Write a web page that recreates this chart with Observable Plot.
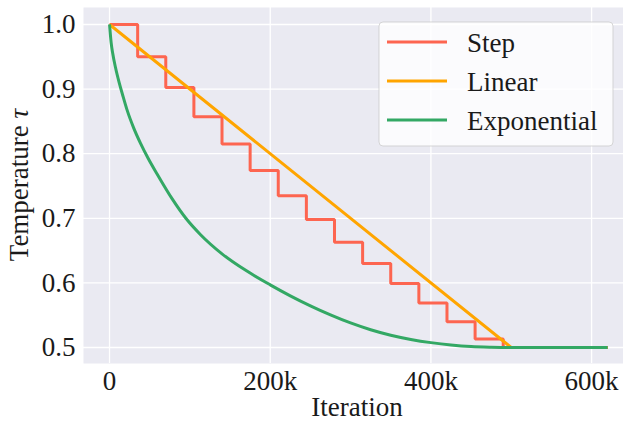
<!DOCTYPE html>
<html>
<head>
<meta charset="utf-8">
<script src="https://cdn.jsdelivr.net/npm/d3@7"></script>
<script src="https://cdn.jsdelivr.net/npm/@observablehq/plot@0.6"></script>
<style>
  html, body { margin: 0; padding: 0; background: white; }
  #chart svg { display: block; }
  #chart text { font-family: "Liberation Serif", "Times New Roman", serif; }
</style>
</head>
<body>
<div id="chart"></div>
<script>
// ---- data ----
const seriesNames = ["Step", "Linear", "Exponential"];
const seriesColors = ["#fd6550", "#ffa500", "#33a864"];

const stepIter = [0, 35000, 70000, 105000, 140000, 175000, 210000, 245000, 280000, 315000, 350000, 385000, 420000, 455000, 490000, 620000];
const stepTemp = [1.0, 0.95, 0.9025, 0.857, 0.815, 0.774, 0.735, 0.698, 0.663, 0.630, 0.599, 0.569, 0.540, 0.513, 0.5, 0.5];

const linearIter = [0, 500000, 620000];
const linearTemp = [1.0, 0.5, 0.5];

const expIter = [0, 2000, 4000, 7500, 12000, 17000, 22000, 30000, 38600, 48000, 59000, 78000, 95000, 113000, 140000, 170000, 200000, 225000, 250000, 275000, 300000, 325000, 350000, 375000, 400000, 425000, 450000, 475000, 500000, 620000];
const expTemp = [1.0, 0.972, 0.955, 0.933, 0.910, 0.888, 0.867, 0.840, 0.816, 0.793, 0.769, 0.730, 0.700, 0.675, 0.645, 0.619, 0.597, 0.580, 0.5645, 0.5505, 0.538, 0.5275, 0.519, 0.5125, 0.5075, 0.5038, 0.5014, 0.5004, 0.5, 0.5];

const xTicks = [0, 200000, 400000, 600000];
const xTickLabels = ["0", "200k", "400k", "600k"];
const yTicks = [0.5, 0.6, 0.7, 0.8, 0.9, 1.0];
const xLabel = "Iteration";
const yLabel = "Temperature ";
const yLabelSymbol = "τ";

// ---- build tables ----
const stepRows = stepIter.map((x, i) => ({x, y: stepTemp[i]}));
const linearRows = linearIter.map((x, i) => ({x, y: linearTemp[i]}));
const expRows = expIter.map((x, i) => ({x, y: expTemp[i]}));

const W = 623, H = 422;
const font = "Liberation Serif, Times New Roman, serif";
const fs = 27;

const chart = Plot.plot({
  width: W,
  height: H,
  marginLeft: 83,
  marginRight: 0,
  marginTop: 7,
  marginBottom: 59,
  style: {fontFamily: font, fontSize: fs + "px", background: "white", color: "#1a1a1a"},
  x: {domain: [-32400, 639700], label: null},
  y: {domain: [0.4752, 1.0263], label: null},
  marks: [
    Plot.frame({fill: "#eaeaf2", stroke: null}),
    Plot.gridX(xTicks, {stroke: "white", strokeOpacity: 1, strokeWidth: 1.3}),
    Plot.gridY(yTicks, {stroke: "white", strokeOpacity: 1, strokeWidth: 1.3}),
    Plot.axisX(xTicks, {tickSize: 0, tickPadding: 7, tickFormat: (d) => xTickLabels[xTicks.indexOf(d)], fontSize: fs, label: null}),
    Plot.axisY(yTicks, {tickSize: 0, tickPadding: 8, tickFormat: d3.format(".1f"), fontSize: fs, label: null}),
    Plot.line(stepRows, {x: "x", y: "y", curve: "step-after", stroke: seriesColors[0], strokeWidth: 3, strokeLinejoin: "miter", strokeLinecap: "butt"}),
    Plot.line(linearRows, {x: "x", y: "y", stroke: seriesColors[1], strokeWidth: 3, strokeLinecap: "butt"}),
    Plot.line(expRows, {x: "x", y: "y", curve: "monotone-x", stroke: seriesColors[2], strokeWidth: 3, strokeLinecap: "butt"})
  ]
});

const svg = d3.select(chart);

// axis labels
svg.append("text")
  .attr("x", 357).attr("y", 416)
  .attr("text-anchor", "middle")
  .attr("font-size", fs)
  .attr("fill", "#1a1a1a")
  .text(xLabel);

const yl = svg.append("text")
  .attr("transform", "translate(28,185) rotate(-90)")
  .attr("text-anchor", "middle")
  .attr("font-size", fs)
  .attr("fill", "#1a1a1a");
yl.append("tspan").text(yLabel);
yl.append("tspan").attr("font-style", "italic").text(yLabelSymbol);

// legend
const lg = svg.append("g");
lg.append("rect")
  .attr("x", 379).attr("y", 22).attr("width", 234).attr("height", 124)
  .attr("rx", 4)
  .attr("fill", "white").attr("fill-opacity", 0.8)
  .attr("stroke", "#cccccc").attr("stroke-opacity", 0.8).attr("stroke-width", 1);
const rowY = [42, 81, 120];
seriesNames.forEach((name, i) => {
  lg.append("line")
    .attr("x1", 387).attr("x2", 447).attr("y1", rowY[i]).attr("y2", rowY[i])
    .attr("stroke", seriesColors[i]).attr("stroke-width", 3);
  lg.append("text")
    .attr("x", 467).attr("y", rowY[i] + 10)
    .attr("text-anchor", "start")
    .attr("font-size", fs)
    .attr("fill", "#1a1a1a")
    .text(name);
});

document.getElementById("chart").appendChild(chart);
</script>
</body>
</html>
